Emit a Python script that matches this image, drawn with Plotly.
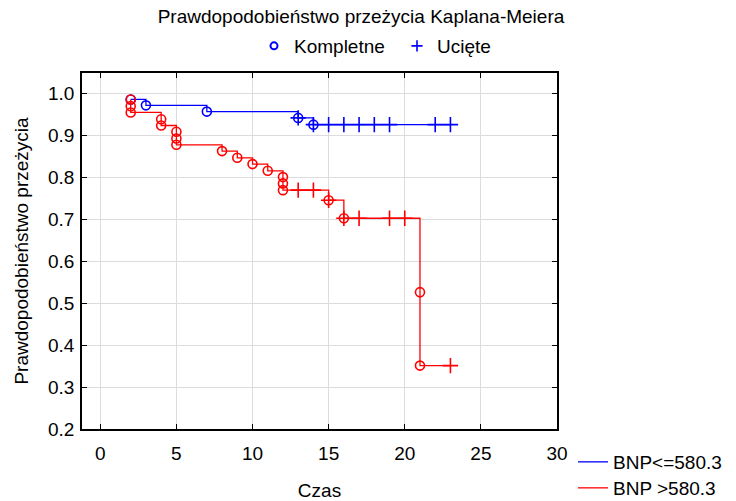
import plotly.graph_objects as go

# ---- data ----
blue_event_t = [2, 3, 7, 13, 14]
blue_event_s = [0.985, 0.971, 0.956, 0.941, 0.925]
blue_cens_t = [13, 14, 15, 16, 17, 18, 19, 22, 23]
blue_cens_s = [0.941, 0.925, 0.925, 0.925, 0.925, 0.925, 0.925, 0.925, 0.925]

red_event_t = [2, 2, 2, 4, 4, 5, 5, 5, 8, 9, 10, 11, 12, 12, 12, 15, 16, 21, 21]
red_event_s = [0.985, 0.969, 0.954, 0.938, 0.923, 0.908, 0.892, 0.877, 0.862,
               0.846, 0.831, 0.815, 0.800, 0.785, 0.769, 0.745, 0.702, 0.526, 0.351]
red_cens_t = [13, 14, 15, 16, 17, 19, 20, 23]
red_cens_s = [0.769, 0.769, 0.745, 0.702, 0.702, 0.702, 0.702, 0.351]

group_names = ["BNP<=580.3", "BNP >580.3"]
marker_names = ["Kompletne", "Ucięte"]
x_ticks = [0, 5, 10, 15, 20, 25, 30]
y_ticks = [0.2, 0.3, 0.4, 0.5, 0.6, 0.7, 0.8, 0.9, 1.0]

BLUE = "#0000ff"
RED = "#ff0000"
FONT = "Liberation Sans, Arial, sans-serif"
FS = 19


def step_path(et, es, ct, cs):
    pts = sorted(list(zip(et, es)) + [(ct[-1], cs[-1])], key=lambda p: p[0])
    return [p[0] for p in pts], [p[1] for p in pts]


fig = go.Figure()

for (et, es, ct, cs, col, name, lg) in [
    (blue_event_t, blue_event_s, blue_cens_t, blue_cens_s, BLUE, group_names[0], "legend2"),
    (red_event_t, red_event_s, red_cens_t, red_cens_s, RED, group_names[1], "legend4"),
]:
    px_, py_ = step_path(et, es, ct, cs)
    fig.add_trace(go.Scatter(x=px_, y=py_, mode="lines", line=dict(color=col, width=1.3, shape="hv"),
                             name=name, legend=lg, showlegend=True))
    fig.add_trace(go.Scatter(x=et, y=es, mode="markers",
                             marker=dict(symbol="circle-open", size=9, color=col, line=dict(width=1.6, color=col)),
                             showlegend=False, hoverinfo="skip"))
    fig.add_trace(go.Scatter(x=ct, y=cs, mode="markers",
                             marker=dict(symbol="cross-thin-open", size=11, color=col, line=dict(width=1.6, color=col)),
                             showlegend=False, hoverinfo="skip"))

# legend entries for marker types
fig.add_trace(go.Scatter(x=[None], y=[None], mode="markers", name=marker_names[0], legend="legend",
                         marker=dict(symbol="circle-open", size=7, color=BLUE, line=dict(width=2, color=BLUE))))
fig.add_trace(go.Scatter(x=[None], y=[None], mode="markers", name=marker_names[1], legend="legend3",
                         marker=dict(symbol="cross-thin-open", size=8, color=BLUE, line=dict(width=1.6, color=BLUE))))

L, R, T, B = 82, 179, 73, 72
W, H = 736, 501
pw = W - L - R
ph = H - T - B


def px2x(p):
    return (p - L) / pw


def py2y(p):
    return 1 - (p - T) / ph


def leg(xp, yp, orient="h"):
    return dict(orientation=orient, x=px2x(xp), xanchor="left", y=py2y(yp), yanchor="middle",
                font=dict(size=FS), bgcolor="rgba(0,0,0,0)", itemwidth=30, tracegroupgap=0)


fig.update_layout(
    width=W, height=H,
    margin=dict(l=L, r=R, t=T, b=B, autoexpand=False),
    paper_bgcolor="white", plot_bgcolor="white",
    font=dict(family=FONT, size=FS, color="black"),
    title=dict(text="Prawdopodobieństwo przeżycia Kaplana-Meiera", x=361 / W, xanchor="center",
               y=1 - 16 / H, yanchor="middle", font=dict(size=FS)),
    legend=leg(254, 46),
    legend3=leg(397, 46),
    legend2=leg(573, 462, "v"),
    legend4=leg(573, 488, "v"),
    xaxis=dict(range=[-1.2, 30], tickvals=x_ticks, ticks="inside", ticklen=5, tickcolor="black",
               showline=True, linecolor="black", linewidth=1.5, mirror="ticks",
               showgrid=True, gridcolor="#dcdcdc", gridwidth=1, zeroline=False,
               ticklabelstandoff=6,
               title=dict(text="Czas", standoff=22, font=dict(size=FS)), tickfont=dict(size=FS)),
    yaxis=dict(range=[0.2, 1.048], tickvals=y_ticks, tickformat=".1f", ticks="inside", ticklen=5,
               tickcolor="black", showline=True, linecolor="black", linewidth=1.5, mirror="ticks",
               showgrid=True, gridcolor="#dcdcdc", gridwidth=1, zeroline=False,
               ticklabelstandoff=2,
               title=dict(text="Prawdopodobieństwo przeżycia", standoff=14, font=dict(size=FS)),
               tickfont=dict(size=FS)),
)

fig.write_html("out.html")
